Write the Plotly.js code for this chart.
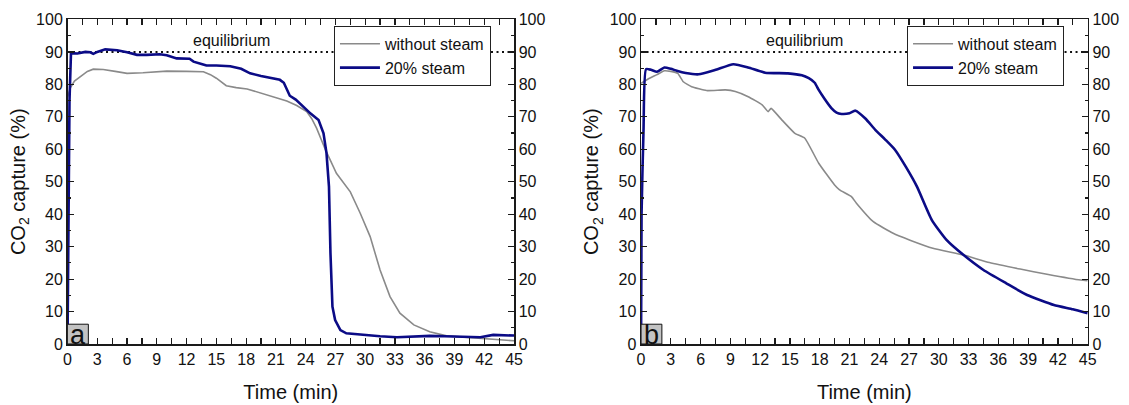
<!DOCTYPE html>
<html>
<head>
<meta charset="utf-8">
<script src="https://cdn.plot.ly/plotly-3.0.1.min.js"></script>
<style>
  html, body { margin: 0; padding: 0; background: #ffffff; }
  #chart { width: 1129px; height: 405px; }
</style>
</head>
<body>
<div id="chart"></div>
<script>
// Panel (a): CO2 capture vs time
const tA_dry = [0, 0.3, 0.7, 1.26, 2, 2.6, 3.6, 4.8, 6, 7.6, 10, 12, 13.7, 14.4, 15, 16, 17, 18.1, 20.1, 21.4, 22.1, 23.1, 24.1, 24.6, 25.1, 26, 27.1, 28.5, 29.5, 30.5, 31.5, 32.5, 33.5, 34.9, 36.5, 38.2, 40, 41.6, 43, 45];
const capA_dry = [76, 79, 81, 82.4, 84, 84.7, 84.6, 84, 83.4, 83.6, 84.1, 84, 83.9, 83, 81.9, 79.6, 79, 78.6, 76.7, 75.7, 74.9, 73.5, 71.6, 69.5, 66.5, 59.8, 52.6, 46.9, 40.3, 33.1, 22.8, 14.6, 9.5, 5.9, 3.8, 2.5, 2.1, 1.75, 1.4, 1.0];

const tA_steam = [0, 0.05, 0.2, 0.35, 1, 1.8, 2.3, 2.6, 3, 3.8, 5, 6, 7, 8, 9.3, 10, 11, 12.3, 12.7, 13.5, 14, 15, 16.4, 17.5, 18.4, 19.5, 20.7, 21.4, 21.8, 22.4, 23, 23.5, 24, 24.5, 25.3, 25.8, 26.1, 26.35, 26.5, 26.7, 26.97, 27.5, 28.1, 29.8, 31.5, 33.2, 35, 36.5, 38, 39.9, 41.6, 42.9, 45];
const capA_steam = [0, 30, 75, 89.6, 89.5, 90, 89.9, 89.4, 90.0, 90.8, 90.5, 89.9, 89.1, 89.1, 89.3, 89.0, 88.0, 87.9, 87.0, 86.3, 85.8, 85.8, 85.6, 84.8, 83.4, 82.6, 81.9, 81.4, 80.5, 76.5, 75.3, 73.8, 72.3, 71.0, 69.0, 64.9, 58.8, 48.5, 28, 11.5, 7.4, 4.3, 3.3, 2.8, 2.4, 2.1, 2.3, 2.5, 2.4, 2.3, 2.1, 2.8, 2.6];

// Panel (b): CO2 capture vs time
const tB_dry = [0, 0.8, 1.6, 2.35, 3, 3.7, 4.26, 5.1, 6.6, 8.5, 9.5, 10.8, 12.2, 12.8, 13.1, 14.2, 15.5, 16.5, 17.9, 19.5, 20, 21.2, 21.7, 23.4, 25.4, 27.1, 29.4, 32.5, 35.1, 38.2, 40.9, 44.3, 45];
const capB_dry = [80.3, 81.8, 83, 84.2, 84, 83.4, 80.8, 79.3, 78.1, 78.3, 77.8, 76.2, 73.7, 71.6, 72.6, 69, 64.9, 63.4, 55.7, 49, 47.5, 45.4, 43.4, 37.7, 34.1, 32, 29.5, 27.4, 25.1, 23.1, 21.5, 19.7, 19.5];

const tB_steam = [0, 0.05, 0.25, 0.5, 1, 1.6, 2.35, 3, 3.6, 4.5, 5.8, 7.45, 9.3, 10.8, 12.5, 14.8, 16.2, 16.9, 17.5, 17.9, 18.5, 19.2, 19.7, 20.2, 21.0, 21.6, 22.6, 23.6, 24.6, 25.6, 26.7, 27.8, 29.3, 30.8, 32.5, 34.5, 36.8, 38.9, 41.6, 43.5, 45];
const capB_steam = [0, 40, 66, 84.7, 84.5, 83.9, 85.2, 84.8, 84.2, 83.5, 83.1, 84.4, 86.2, 85.2, 83.6, 83.4, 82.8, 81.9, 80.5, 78.3, 75.5, 72.6, 71.3, 70.9, 71.1, 71.9, 69.5, 66, 63, 59.8, 54.5, 48.5, 38.2, 32, 27.4, 22.8, 18.7, 15.1, 12.0, 10.7, 9.5];

const seriesNames = ['without steam', '20% steam'];
const equilibrium = 90;
const panelLabels = ['a', 'b'];

const FONT = 'Liberation Sans, Arial, Helvetica, sans-serif';
const GRAY = '#8a8a8a';
const NAVY = '#0b0b86';
const AXC = '#1a1a1a';

const traces = [
  { x: tA_dry, y: capA_dry, xaxis: 'x', yaxis: 'y', name: seriesNames[0], legend: 'legend',
    mode: 'lines', line: { color: GRAY, width: 1.6 } },
  { x: tA_steam, y: capA_steam, xaxis: 'x', yaxis: 'y', name: seriesNames[1], legend: 'legend',
    mode: 'lines', line: { color: NAVY, width: 2.6 } },
  { x: tB_dry, y: capB_dry, xaxis: 'x2', yaxis: 'y2', name: seriesNames[0], legend: 'legend2',
    mode: 'lines', line: { color: GRAY, width: 1.6, shape: 'spline', smoothing: 0.4 } },
  { x: tB_steam, y: capB_steam, xaxis: 'x2', yaxis: 'y2', name: seriesNames[1], legend: 'legend2',
    mode: 'lines', line: { color: NAVY, width: 2.6, shape: 'spline', smoothing: 0.5 } },
  // right-hand value axes
  { x: [], y: [], xaxis: 'x', yaxis: 'y3', showlegend: false, hoverinfo: 'skip' },
  { x: [], y: [], xaxis: 'x2', yaxis: 'y4', showlegend: false, hoverinfo: 'skip' }
];

function xAxis(domain, anchor) {
  return {
    domain: domain, anchor: anchor, range: [0, 45], tick0: 0, dtick: 3,
    ticks: 'inside', ticklen: 6, tickwidth: 1.2, tickcolor: AXC,
    minor: { dtick: 1.5, ticks: 'inside', ticklen: 3, tickwidth: 1.2, tickcolor: AXC },
    showline: true, linecolor: AXC, linewidth: 1.5, mirror: 'allticks',
    showgrid: false, zeroline: false,
    tickfont: { family: FONT, size: 16, color: '#111' },
    title: { text: 'Time (min)', font: { family: FONT, size: 20, color: '#111' }, standoff: 18 }
  };
}
function yAxis(anchor, side, overlay, withTitle) {
  const ax = {
    domain: [0.1506, 0.9519], anchor: anchor, side: side, range: [0, 100], tick0: 0, dtick: 10,
    ticks: 'inside', ticklen: 6, tickwidth: 1.2, tickcolor: AXC,
    minor: { dtick: 5, ticks: 'inside', ticklen: 3, tickwidth: 1.2, tickcolor: AXC },
    showline: true, linecolor: AXC, linewidth: 1.5,
    showgrid: false, zeroline: false,
    tickfont: { family: FONT, size: 16, color: '#111' }
  };
  if (overlay) ax.overlaying = overlay;
  if (withTitle) ax.title = { text: 'CO<sub>2</sub> capture (%)', font: { family: FONT, size: 20, color: '#111' }, standoff: 5 };
  return ax;
}

const shapes = [];
const annotations = [];
[['x', 'y'], ['x2', 'y2']].forEach(([xr, yr], i) => {
  // equilibrium level
  shapes.push({ type: 'line', xref: xr, yref: yr, x0: 0, x1: 45, y0: equilibrium, y1: equilibrium,
    line: { color: '#111', width: 2, dash: '2px,3.5px' }, layer: 'below' });
  // panel tag box
  shapes.push({ type: 'rect', xref: xr, yref: yr, x0: 0, x1: 2.1, y0: 0, y1: 6.1,
    fillcolor: '#c3c3c3', line: { color: '#111', width: 1 } });
  annotations.push({ xref: xr, yref: yr, x: 1.05, y: 2.9, text: panelLabels[i], showarrow: false,
    font: { family: FONT, size: 27, color: '#111' }, xanchor: 'center', yanchor: 'middle' });
  annotations.push({ xref: xr, yref: yr, x: 16.5, y: 93.4, text: 'equilibrium', showarrow: false,
    font: { family: FONT, size: 16, color: '#111' }, xanchor: 'center', yanchor: 'middle' });
});

function legendAt(x) {
  return { x: x, y: 0.936, xanchor: 'left', yanchor: 'top', bgcolor: '#ffffff',
    bordercolor: '#222', borderwidth: 1, font: { family: FONT, size: 16, color: '#111' },
    tracegroupgap: 0, itemwidth: 40 };
}

const layout = {
  width: 1129, height: 405,
  margin: { l: 0, r: 0, t: 0, b: 0 },
  paper_bgcolor: '#ffffff', plot_bgcolor: '#ffffff',
  font: { family: FONT, size: 16, color: '#111' },
  xaxis: xAxis([0.0598, 0.4553], 'y'),
  xaxis2: xAxis([0.5678, 0.9634], 'y2'),
  yaxis: yAxis('x', 'left', null, true),
  yaxis2: yAxis('x2', 'left', null, true),
  yaxis3: yAxis('x', 'right', 'y', false),
  yaxis4: yAxis('x2', 'right', 'y2', false),
  legend: legendAt(0.2958),
  legend2: legendAt(0.8034),
  shapes: shapes,
  annotations: annotations,
  showlegend: true
};

Plotly.newPlot('chart', traces, layout, { staticPlot: true, displayModeBar: false });
</script>
</body>
</html>
